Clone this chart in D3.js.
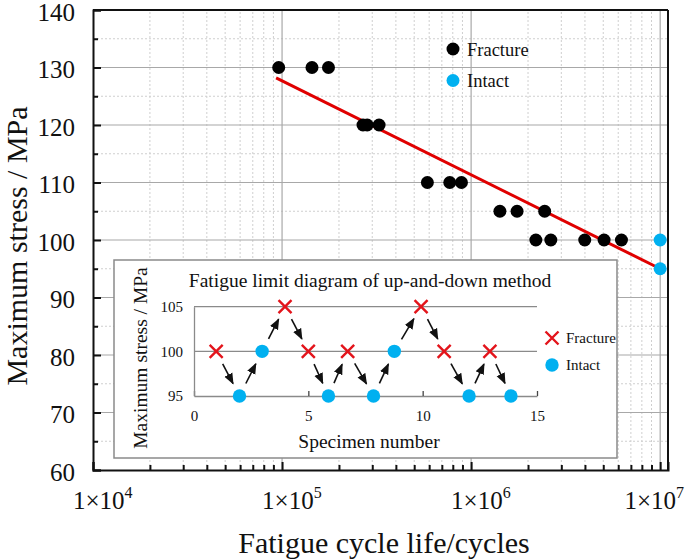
<!DOCTYPE html>
<html>
<head>
<meta charset="utf-8">
<script src="https://cdn.jsdelivr.net/npm/d3@7"></script>
<style>
  body { margin: 0; background: #fff; }
  svg text { font-family: "Liberation Serif", "Times New Roman", serif; fill: #111; }
</style>
</head>
<body>
<div id="chart"></div>
<script>
// main S-N data (cycles, MPa)
var fractureN = [9.6e4, 1.44e5, 1.76e5, 2.68e5, 2.82e5, 3.26e5, 5.87e5, 7.71e5, 8.89e5,
                 1.42e6, 1.75e6, 2.45e6, 2.2e6, 2.64e6, 3.99e6, 5.05e6, 6.24e6];
var fractureS = [130, 130, 130, 120, 120, 120, 110, 110, 110, 105, 105, 105, 100, 100, 100, 100, 100];
var intactN = [1e7, 1e7];
var intactS = [100, 95];
// fitted line end points
var fitN = [9.3e4, 1e7];
var fitS = [128.2, 95];

var yTicks = [60, 70, 80, 90, 100, 110, 120, 130, 140];
var xTicks = [1e4, 1e5, 1e6, 1e7];
var xTickLabels = ["4", "5", "6", "7"];

// inset: up-and-down method
var specimen = [0.97, 1.99, 2.98, 3.98, 5.0, 5.88, 6.72, 7.85, 8.76, 9.93, 10.94, 12.03, 12.94, 13.86];
var specStress = [100, 95, 100, 105, 100, 95, 100, 95, 100, 105, 100, 95, 100, 95];
var specResult = ["F", "I", "I", "F", "F", "I", "F", "I", "I", "F", "F", "I", "F", "I"];
var insetYTicks = [95, 100, 105];
var insetXTicks = [0, 5, 10, 15];

var cyan = "#00b0f0", red = "#e3141b";
var serif = "Liberation Serif, Times New Roman, serif";

var svg = d3.select("#chart").append("svg")
  .attr("width", 685)
  .attr("height", 560)
  .attr("font-family", serif);

var x = d3.scaleLog().domain([1e4, 1.1e7]).range([93, 668]);
var y = d3.scaleLinear().domain([60, 140]).range([470, 10]);

// minor values
var xMinor = [];
[1e4, 1e5, 1e6].forEach(function (d) {
  for (var k = 2; k <= 9; k++) xMinor.push(d * k);
});
var yMinor = d3.range(65, 140, 10);

// grid
var grid = svg.append("g");
grid.selectAll(".gxm").data(xMinor).enter().append("line")
  .attr("x1", function (d) { return x(d); }).attr("x2", function (d) { return x(d); })
  .attr("y1", y(60)).attr("y2", y(140))
  .attr("stroke", "#cfcfcf").attr("stroke-dasharray", "2,2");
grid.selectAll(".gym").data(yMinor).enter().append("line")
  .attr("x1", x.range()[0]).attr("x2", x.range()[1])
  .attr("y1", function (d) { return y(d); }).attr("y2", function (d) { return y(d); })
  .attr("stroke", "#cfcfcf").attr("stroke-dasharray", "2,2");
grid.selectAll(".gx").data([1e5, 1e6, 1e7]).enter().append("line")
  .attr("x1", function (d) { return x(d); }).attr("x2", function (d) { return x(d); })
  .attr("y1", y(60)).attr("y2", y(140))
  .attr("stroke", "#a8a8a8").attr("stroke-width", 1.2);
grid.selectAll(".gy").data(d3.range(70, 140, 10)).enter().append("line")
  .attr("x1", x.range()[0]).attr("x2", x.range()[1])
  .attr("y1", function (d) { return y(d); }).attr("y2", function (d) { return y(d); })
  .attr("stroke", "#a8a8a8").attr("stroke-width", 1.2);

// fit line
var fitLine = d3.line()
  .x(function (d) { return x(d[0]); })
  .y(function (d) { return y(d[1]); });
svg.append("path")
  .attr("d", fitLine(d3.zip(fitN, fitS)))
  .attr("stroke", "#e00000").attr("stroke-width", 3).attr("fill", "none");

// points
svg.selectAll(".fr").data(d3.zip(fractureN, fractureS)).enter().append("circle")
  .attr("cx", function (d) { return x(d[0]); })
  .attr("cy", function (d) { return y(d[1]); })
  .attr("r", 6.5).attr("fill", "#000");
svg.selectAll(".in").data(d3.zip(intactN, intactS)).enter().append("circle")
  .attr("cx", function (d) { return x(d[0]); })
  .attr("cy", function (d) { return y(d[1]); })
  .attr("r", 6.5).attr("fill", cyan);

// legend
svg.append("circle").attr("cx", 453).attr("cy", 49).attr("r", 6.5).attr("fill", "#000");
svg.append("circle").attr("cx", 453).attr("cy", 80.5).attr("r", 6.5).attr("fill", cyan);
svg.append("text").attr("x", 467).attr("y", 55.5).attr("font-size", 18.5).text("Fracture");
svg.append("text").attr("x", 467).attr("y", 87).attr("font-size", 18.5).text("Intact");

// axes (ticks inward)
var axisY = svg.append("g").attr("transform", "translate(93,0)")
  .call(d3.axisLeft(y).tickValues(yTicks).tickSize(-8).tickPadding(18).tickFormat(d3.format("d")));
svg.append("g").attr("transform", "translate(93,0)")
  .call(d3.axisLeft(y).tickValues(yMinor).tickSize(-5).tickFormat(""))
  .select(".domain").remove();
axisY.selectAll("text").attr("font-size", 25).attr("font-family", serif).attr("fill", "#111")
  .attr("dy", "0.4em");

var axisX = svg.append("g").attr("transform", "translate(0,470)")
  .call(d3.axisBottom(x).tickValues(xTicks).tickSize(-8).tickFormat(""));
svg.append("g").attr("transform", "translate(0,470)")
  .call(d3.axisBottom(x).tickValues(xMinor).tickSize(-5).tickFormat(""))
  .select(".domain").remove();
svg.selectAll(".domain, .tick line").attr("stroke", "#111").attr("stroke-width", 2);

// frame top / right
svg.append("line").attr("x1", 93).attr("x2", 668).attr("y1", 10).attr("y2", 10)
  .attr("stroke", "#111").attr("stroke-width", 2);
svg.append("line").attr("x1", 668).attr("x2", 668).attr("y1", 10).attr("y2", 470)
  .attr("stroke", "#111").attr("stroke-width", 2);

// x tick labels 1x10^n (last one kept inside the page)
var xl = svg.selectAll(".xl").data(d3.zip(xTicks, xTickLabels)).enter().append("text")
  .attr("x", function (d) { return x(d[0]) - 20; })
  .attr("y", 509)
  .attr("text-anchor", "start")
  .attr("font-size", 25);
xl.append("tspan").text("1×10");
xl.append("tspan").attr("dy", -11).attr("font-size", 16).text(function (d) { return d[1]; });
xl.each(function (d) {
  var w = this.getComputedTextLength();
  var x0 = x(d[0]) - 20;
  if (x0 + w > 684) d3.select(this).attr("x", 684 - w);
});

// axis titles
svg.append("text")
  .attr("transform", "translate(27,246) rotate(-90)")
  .attr("text-anchor", "middle").attr("font-size", 30)
  .text("Maximum stress / MPa");
svg.append("text")
  .attr("x", 384).attr("y", 553)
  .attr("text-anchor", "middle").attr("font-size", 30)
  .text("Fatigue cycle life/cycles");

// ---- inset ----
var inset = svg.append("g");
inset.append("rect")
  .attr("x", 114).attr("y", 260).attr("width", 503).attr("height", 198)
  .attr("fill", "#fff").attr("stroke", "#8a8a8a").attr("stroke-width", 1.5);

var ix = d3.scaleLinear().domain([0, 15]).range([194, 537]);
var iy = d3.scaleLinear().domain([95, 105]).range([396, 306.7]);

inset.selectAll(".igrid").data([100, 105]).enter().append("line")
  .attr("x1", ix(0)).attr("x2", ix(15))
  .attr("y1", function (d) { return iy(d); }).attr("y2", function (d) { return iy(d); })
  .attr("stroke", "#8a8a8a").attr("stroke-width", 1.3);

var iax = inset.append("g").attr("transform", "translate(0," + iy(95) + ")")
  .call(d3.axisBottom(ix).tickValues(insetXTicks).tickSizeInner(-5).tickSizeOuter(0).tickPadding(14));
var iay = inset.append("g").attr("transform", "translate(" + ix(0) + ",0)")
  .call(d3.axisLeft(iy).tickValues(insetYTicks).tickSize(0).tickPadding(11));
inset.selectAll(".domain, .tick line").attr("stroke", "#8a8a8a").attr("stroke-width", 1.3);
iax.selectAll(".tick line").attr("stroke", "#444");
inset.selectAll(".tick text").attr("font-size", 15).attr("font-family", serif).attr("fill", "#111");

// arrows between successive specimens
svg.append("defs").append("marker")
  .attr("id", "ah").attr("viewBox", "0 0 10 10").attr("refX", 9).attr("refY", 5)
  .attr("markerWidth", 7).attr("markerHeight", 7).attr("orient", "auto")
  .append("path").attr("d", "M0,1 L10,5 L0,9 Z").attr("fill", "#111");

var pts = specimen.map(function (s, i) { return [ix(s), iy(specStress[i])]; });
var pairs = d3.pairs(pts);
inset.selectAll(".arr").data(pairs).enter().append("line")
  .each(function (d) {
    var dx = d[1][0] - d[0][0], dy = d[1][1] - d[0][1];
    var len = Math.sqrt(dx * dx + dy * dy);
    var ux = dx / len, uy = dy / len;
    d3.select(this)
      .attr("x1", d[0][0] + ux * 14).attr("y1", d[0][1] + uy * 14)
      .attr("x2", d[1][0] - ux * 14).attr("y2", d[1][1] - uy * 14);
  })
  .attr("stroke", "#111").attr("stroke-width", 1.6).attr("marker-end", "url(#ah)");

// markers
function cross(g, cx, cy, s) {
  g.append("path")
    .attr("d", "M" + (cx - s) + "," + (cy - s) + "L" + (cx + s) + "," + (cy + s) +
               "M" + (cx - s) + "," + (cy + s) + "L" + (cx + s) + "," + (cy - s))
    .attr("stroke", red).attr("stroke-width", 2.4).attr("fill", "none");
}
specimen.forEach(function (s, i) {
  if (specResult[i] === "F") {
    cross(inset, ix(s), iy(specStress[i]), 6.5);
  } else {
    inset.append("circle").attr("cx", ix(s)).attr("cy", iy(specStress[i]))
      .attr("r", 6.7).attr("fill", cyan);
  }
});

// inset legend
cross(inset, 552, 338, 6.5);
inset.append("circle").attr("cx", 552).attr("cy", 365).attr("r", 6.7).attr("fill", cyan);
inset.append("text").attr("x", 566).attr("y", 343).attr("font-size", 15).text("Fracture");
inset.append("text").attr("x", 566).attr("y", 370).attr("font-size", 15).text("Intact");

// inset titles
inset.append("text").attr("x", 370).attr("y", 287)
  .attr("text-anchor", "middle").attr("font-size", 19.5)
  .text("Fatigue limit diagram of up-and-down method");
inset.append("text").attr("x", 369).attr("y", 448)
  .attr("text-anchor", "middle").attr("font-size", 19.5)
  .text("Specimen number");
inset.append("text")
  .attr("transform", "translate(147,358) rotate(-90)")
  .attr("text-anchor", "middle").attr("font-size", 19.5)
  .text("Maximum stress / MPa");
</script>
</body>
</html>
